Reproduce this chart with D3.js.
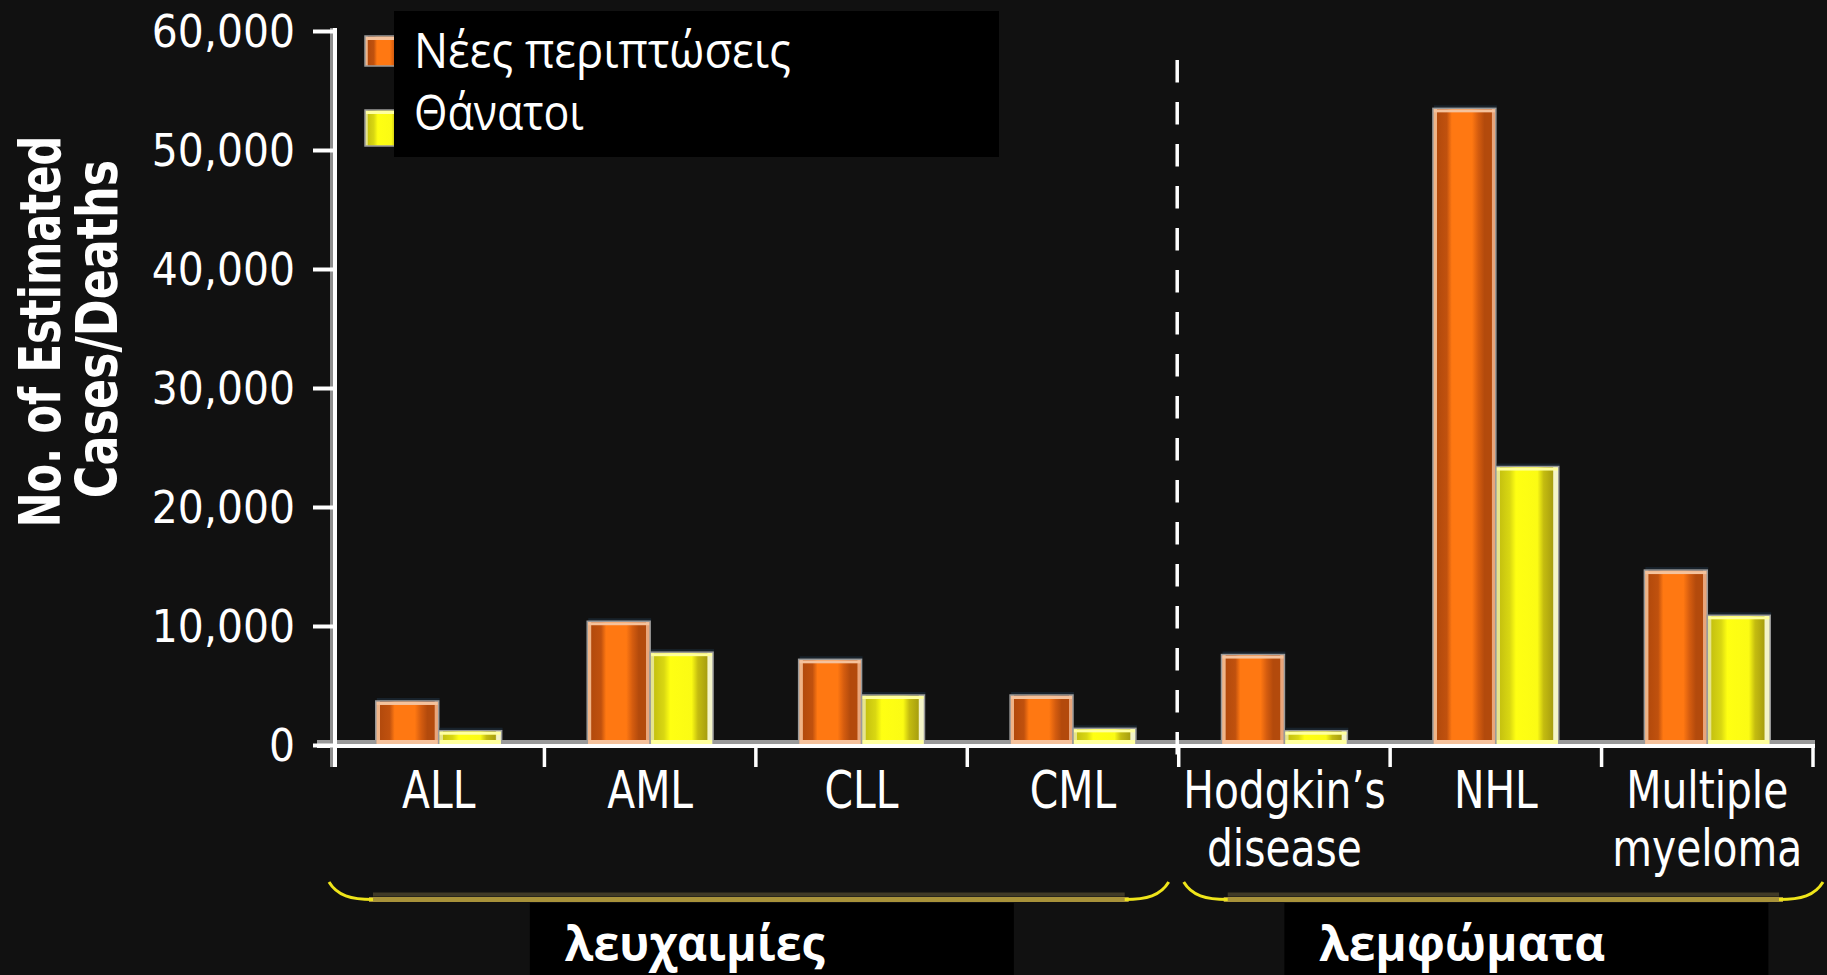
<!DOCTYPE html>
<html>
<head>
<meta charset="utf-8">
<script src="https://cdn.jsdelivr.net/npm/d3@7"></script>
<style>
  html, body { margin: 0; padding: 0; background: #111111; }
  svg { display: block; }
</style>
</head>
<body>
<svg id="chart" width="1827" height="975"></svg>
<script>
// ---- data -------------------------------------------------------------
const categories = ["ALL", "AML", "CLL", "CML", "Hodgkin’s disease", "NHL", "Multiple myeloma"];
const newCases   = [3700, 10400, 7200, 4200, 7600, 53500, 14700];
const deaths     = [1200, 7800, 4200, 1400, 1200, 23400, 10900];
const seriesNames = ["Νέες περιπτώσεις", "Θάνατοι"];
const yTicks = [0, 10000, 20000, 30000, 40000, 50000, 60000];
const yTitleLines = ["No. of Estimated", "Cases/Deaths"];
const groupNames = ["λευχαιμίες", "λεμφώματα"];
const groupFirst = ["ALL", "Hodgkin’s disease"];
const groupLast  = ["CML", "Multiple myeloma"];

// ---- layout -----------------------------------------------------------
const W = 1827, H = 975;
const plotLeft = 335, plotRight = 1813, baseY = 745, topY = 31;

const svg = d3.select("#chart");
svg.append("rect").attr("width", W).attr("height", H).attr("fill", "#111111");

const x0 = d3.scaleBand().domain(categories).range([plotLeft - 2, plotRight]).padding(0);
const x1 = d3.scaleBand().domain(seriesNames).range([0, x0.bandwidth()])
  .paddingInner(0).paddingOuter(0.68);
const y = d3.scaleLinear().domain([0, 60000]).range([baseY, topY]);

// Text drawn narrower than the font's natural width: a group that is
// translated (and optionally rotated) then squeezed horizontally.
function squeezedText(parent, tx, ty, rot, sx, anchor) {
  const g = parent.append("g")
    .attr("transform", `translate(${tx},${ty})` + (rot ? ` rotate(${rot})` : "") + ` scale(${sx},1)`);
  return g.append("text").attr("x", 0).attr("y", 0).attr("text-anchor", anchor);
}

// ---- bar fills --------------------------------------------------------
const defs = svg.append("defs");
function hGrad(id, stops) {
  const g = defs.append("linearGradient").attr("id", id)
    .attr("x1", "0%").attr("x2", "100%").attr("y1", "0%").attr("y2", "0%");
  stops.forEach(([o, c]) => g.append("stop").attr("offset", o).attr("stop-color", c));
}
hGrad("gOrange", [
  ["0%", "#f0b487"], ["6%", "#f0b487"], ["7%", "#b34a0c"], ["22%", "#c0510e"],
  ["30%", "#ff7812"], ["62%", "#ff7812"], ["72%", "#d45c0f"], ["82%", "#b34a0c"],
  ["93%", "#b34a0c"], ["94%", "#e9a57a"], ["100%", "#e9a57a"]
]);
hGrad("gYellow", [
  ["0%", "#e6e48c"], ["6%", "#e6e48c"], ["7%", "#c6c210"], ["22%", "#d9d712"],
  ["32%", "#ffff12"], ["66%", "#fbfb14"], ["76%", "#c4bc10"], ["90%", "#a9a00f"],
  ["92%", "#f4f4c8"], ["100%", "#f4f4c8"]
]);
const fills = { [seriesNames[0]]: "url(#gOrange)", [seriesNames[1]]: "url(#gYellow)" };
const caps  = { [seriesNames[0]]: "#f5c29c", [seriesNames[1]]: "#ffff9e" };

// grey shading just above the baseline
svg.append("line")
  .attr("x1", 317).attr("x2", plotRight + 2)
  .attr("y1", baseY - 3).attr("y2", baseY - 3)
  .attr("stroke", "#9a9a9a").attr("stroke-width", 4);

// ---- bars -------------------------------------------------------------
const rows = categories.map((c, i) => ({ cat: c, vals: [newCases[i], deaths[i]] }));
const gBars = svg.append("g");
rows.forEach(r => {
  r.vals.forEach((v, k) => {
    const s = seriesNames[k];
    const bx = x0(r.cat) + x1(s), bw = x1.bandwidth();
    gBars.append("rect")
      .attr("x", bx + 1).attr("y", y(v) - 3).attr("width", bw).attr("height", 3)
      .attr("fill", "#18222b");
    gBars.append("rect")
      .attr("x", bx).attr("y", y(v)).attr("width", bw).attr("height", baseY - y(v))
      .attr("fill", fills[s]).attr("stroke", "#9a9a9a").attr("stroke-width", 1.5);
    gBars.append("rect")
      .attr("x", bx + 1).attr("y", y(v) + 1).attr("width", bw - 2).attr("height", 3)
      .attr("fill", caps[s]);
    gBars.append("rect")
      .attr("x", bx + 1).attr("y", baseY - 5).attr("width", bw - 2).attr("height", 5)
      .attr("fill", caps[s]);
  });
});

// x axis baseline
svg.append("line")
  .attr("x1", 317).attr("x2", plotRight + 2)
  .attr("y1", baseY + 1).attr("y2", baseY + 1)
  .attr("stroke", "#ffffff").attr("stroke-width", 4);

// y axis line
svg.append("line")
  .attr("x1", plotLeft - 3.5).attr("x2", plotLeft - 3.5)
  .attr("y1", y(60000) - 3).attr("y2", 767)
  .attr("stroke", "#8f8f8f").attr("stroke-width", 3);
svg.append("line")
  .attr("x1", plotLeft).attr("x2", plotLeft)
  .attr("y1", y(60000) - 3).attr("y2", 767)
  .attr("stroke", "#ffffff").attr("stroke-width", 4);

// y axis ticks and labels
const yAxis = svg.append("g")
  .attr("transform", `translate(${plotLeft},0)`)
  .call(d3.axisLeft(y).tickValues(yTicks).tickSize(22).tickPadding(18)
    .tickFormat(d3.format(",")));
yAxis.select(".domain").remove();
yAxis.selectAll(".tick line").attr("stroke", "#ffffff").attr("stroke-width", 4);
yAxis.selectAll(".tick text")
  .attr("fill", "#ffffff")
  .attr("font-family", "DejaVu Sans")
  .attr("font-size", 44)
  .attr("dy", "0.36em")
  .each(function () {
    d3.select(this)
      .attr("textLength", this.getComputedTextLength() * 0.93)
      .attr("lengthAdjust", "spacingAndGlyphs");
  });

// x axis ticks at category boundaries
const bounds = categories.map(c => x0(c)).concat([x0(categories[categories.length - 1]) + x0.bandwidth()]);
svg.append("g").selectAll("line").data(bounds.slice(1)).join("line")
  .attr("x1", d => d).attr("x2", d => d)
  .attr("y1", baseY + 1).attr("y2", 767)
  .attr("stroke", "#ffffff").attr("stroke-width", 3.5);

// category labels
const catG = svg.append("g");
categories.forEach(c => {
  c.split(" ").forEach((ln, i) => {
    squeezedText(catG, x0(c) + x0.bandwidth() / 2, 808 + i * 58, 0, 0.8, "middle")
      .attr("fill", "#ffffff")
      .attr("font-family", "DejaVu Sans")
      .attr("font-size", 51)
      .text(ln);
  });
});

// dashed separator between leukaemias and lymphomas
const sepX = x0(groupFirst[1]) - 1.5;
svg.append("line")
  .attr("x1", sepX).attr("x2", sepX)
  .attr("y1", 60).attr("y2", 767)
  .attr("stroke", "#ffffff").attr("stroke-width", 3.5)
  .attr("stroke-dasharray", "22.5,19.5");

// y axis title
const titleG = svg.append("g");
[[60, 331.5, 0.73], [117, 329, 0.78]].forEach(([bx, cy, sx], i) => {
  squeezedText(titleG, bx, cy, -90, sx, "middle")
    .attr("fill", "#ffffff")
    .attr("font-family", "DejaVu Sans")
    .attr("font-weight", "bold")
    .attr("font-size", 57)
    .text(yTitleLines[i]);
});

// ---- legend -----------------------------------------------------------
const legend = svg.append("g");
[[36, 30], [110, 36]].forEach(([sy, sh], k) => {
  legend.append("rect")
    .attr("x", 365).attr("y", sy).attr("width", 40).attr("height", sh)
    .attr("fill", fills[seriesNames[k]]).attr("stroke", "#9a9a9a").attr("stroke-width", 1.5);
  legend.append("rect")
    .attr("x", 366).attr("y", sy + 1).attr("width", 38).attr("height", 3)
    .attr("fill", caps[seriesNames[k]]);
});
legend.append("rect")
  .attr("x", 394).attr("y", 11).attr("width", 605).attr("height", 146)
  .attr("fill", "#000000");
[68, 130].forEach((by, k) => {
  const t = squeezedText(legend, 414, by, 0, 1, "start")
    .attr("fill", "#ffffff")
    .attr("font-family", "Open Sans")
    .attr("font-size", 49)
    .text(seriesNames[k]);
  // narrow the legend face to its set width
  const target = k === 0 ? 377 : 170;
  const sx = target / t.node().getComputedTextLength();
  d3.select(t.node().parentNode).attr("transform", `translate(414,${by}) scale(${sx},1)`);
});

// ---- group brackets and labels ----------------------------------------
const brG = svg.append("g");
groupNames.forEach((name, g) => {
  const xl = x0(groupFirst[g]) + (g === 0 ? -4 : 5);
  const xr = x0(groupLast[g]) + x0.bandwidth() + (g === 0 ? -10 : 10);
  const ly = 899.5, ey = 882, cw = 44;
  brG.append("line")
    .attr("x1", xl + cw).attr("x2", xr - cw).attr("y1", ly - 5).attr("y2", ly - 5)
    .attr("stroke", "#403a26").attr("stroke-width", 4);
  brG.append("line")
    .attr("x1", xl + cw - 4).attr("x2", xr - cw + 4).attr("y1", ly).attr("y2", ly)
    .attr("stroke", "#a8923a").attr("stroke-width", 5);
  brG.append("path")
    .attr("d", `M${xl},${ey} C${xl + 8},${ly - 4} ${xl + 22},${ly} ${xl + cw},${ly}`)
    .attr("fill", "none").attr("stroke", "#efe51a").attr("stroke-width", 3);
  brG.append("path")
    .attr("d", `M${xr},${ey} C${xr - 8},${ly - 4} ${xr - 22},${ly} ${xr - cw},${ly}`)
    .attr("fill", "none").attr("stroke", "#efe51a").attr("stroke-width", 3);

  const boxX = (xl + xr) / 2 + 23 - 242;
  brG.append("rect")
    .attr("x", boxX).attr("y", 903).attr("width", 484).attr("height", H - 903)
    .attr("fill", "#000000");
  const t = squeezedText(brG, boxX + 35, 961, 0, 1, "start")
    .attr("fill", "#ffffff")
    .attr("font-family", "Open Sans")
    .attr("font-weight", "bold")
    .attr("font-size", 48)
    .text(name);
  const target = g === 0 ? 260 : 286;
  const sx = target / t.node().getComputedTextLength();
  d3.select(t.node().parentNode).attr("transform", `translate(${boxX + 35},961) scale(${sx},1)`);
});
</script>
</body>
</html>
